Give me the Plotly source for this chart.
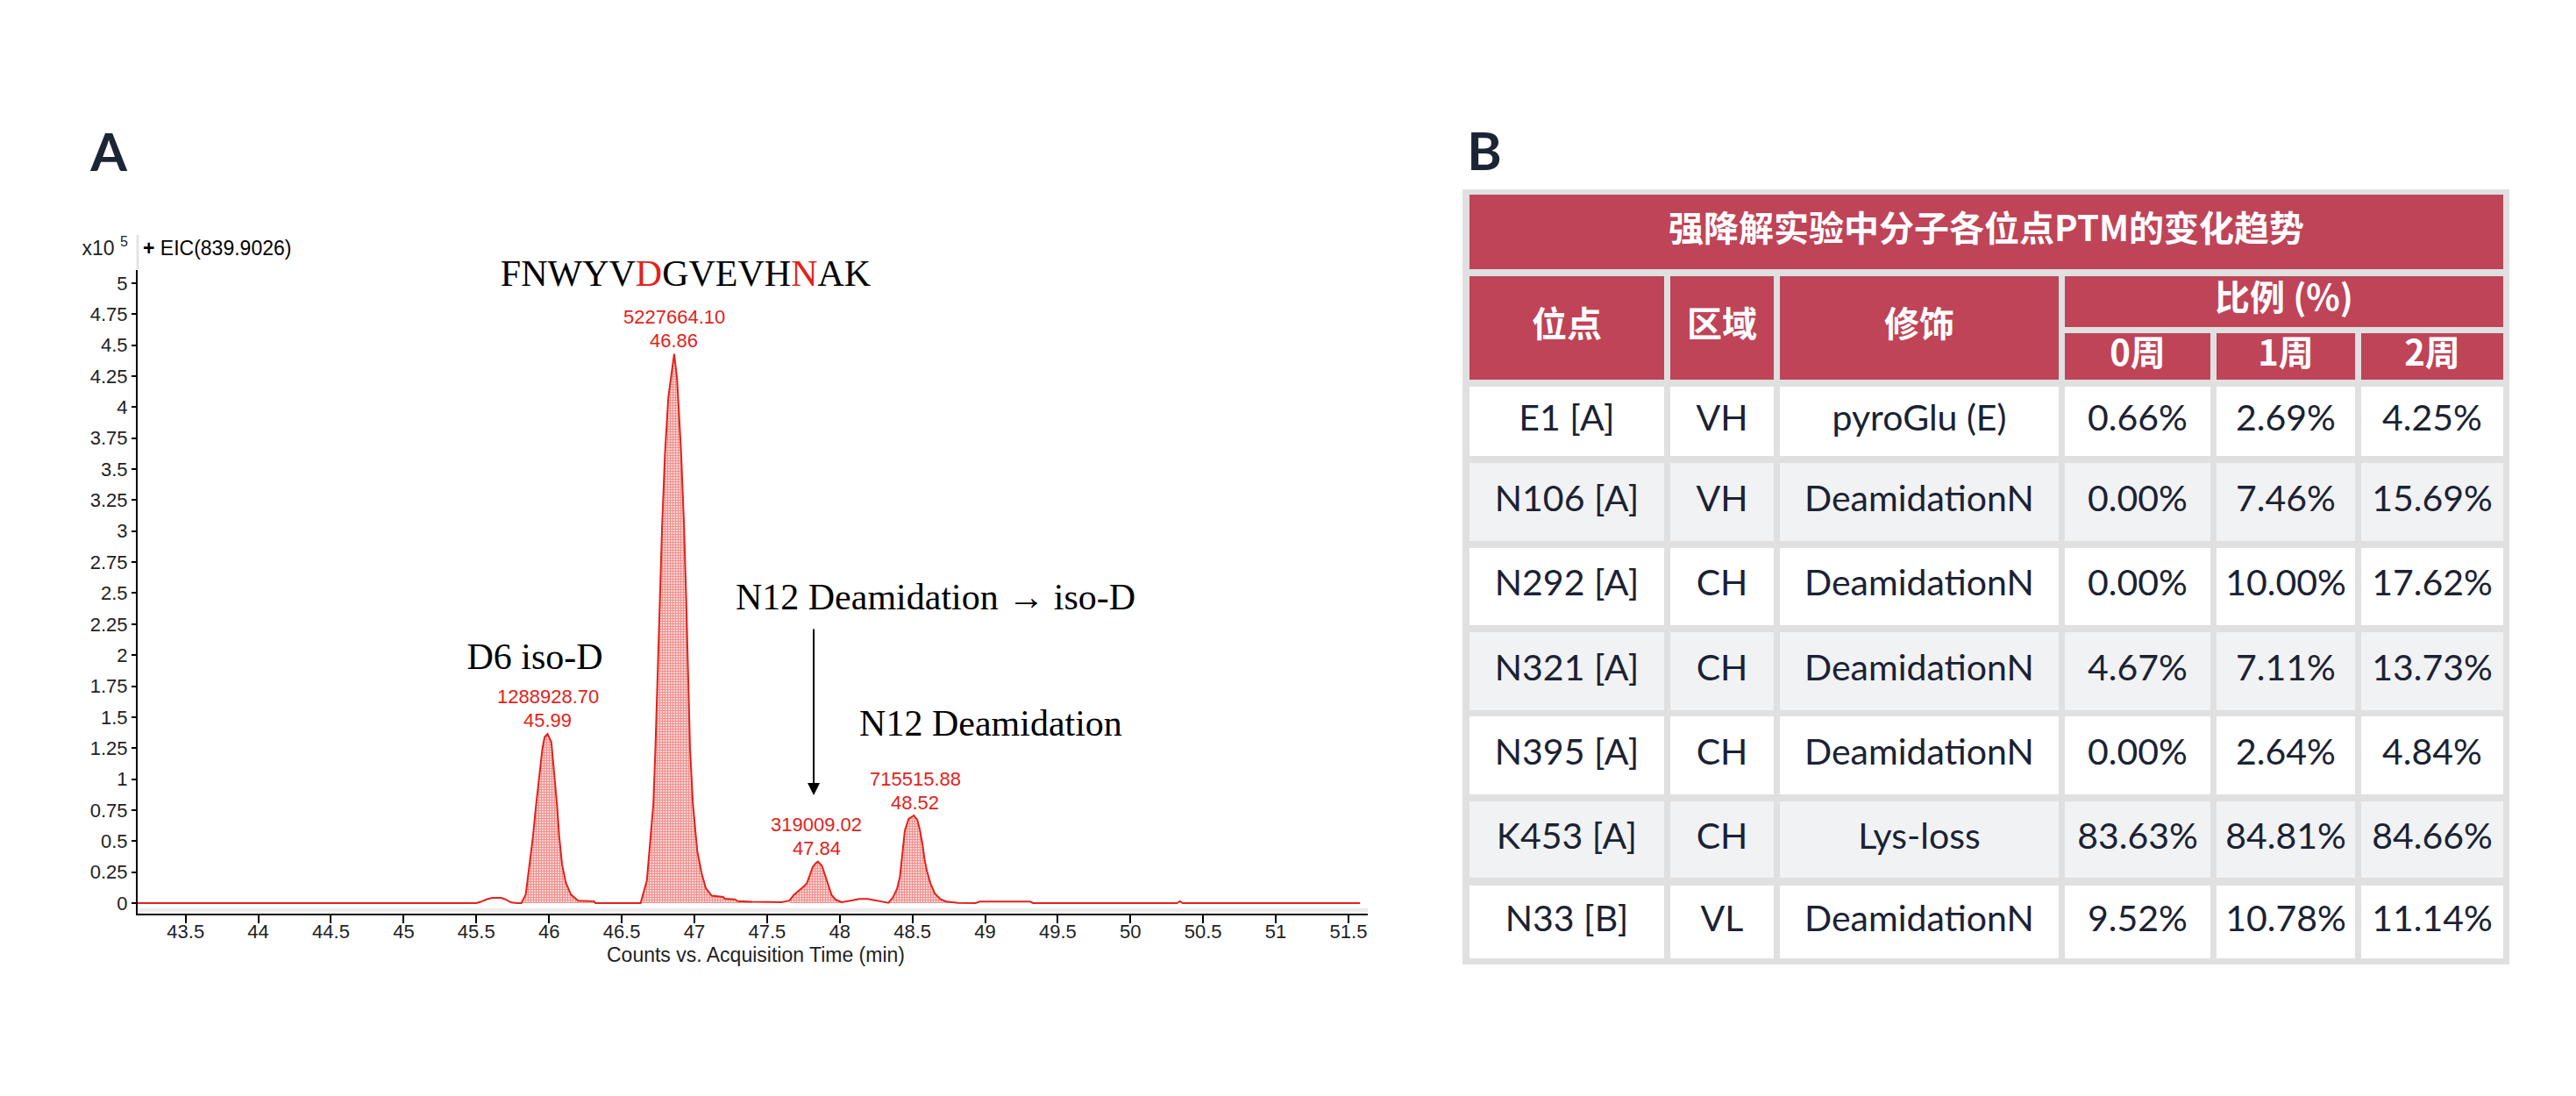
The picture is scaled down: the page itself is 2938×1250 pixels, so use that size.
import plotly.graph_objects as go

W, H = 2938, 1250
OFF = 8  # the page body margin shifts the figure by this many pixels
RED = "#e3221b"
NAVY = "#1b2233"
CRIMSON = "#bf4458"

# ---- panel A data: EIC(839.9026), intensity in x10^5 counts ----
time_min = [43.17, 45.50, 45.53, 45.57, 45.61, 45.67, 45.70, 45.74, 45.78,
            45.81, 45.84, 45.86, 45.89, 45.91, 45.93, 45.955, 45.97, 45.99,
            46.016, 46.04, 46.056, 46.07, 46.09, 46.116, 46.15, 46.20, 46.31,
            46.32, 46.63, 46.673, 46.692, 46.718, 46.732, 46.746, 46.762,
            46.778, 46.798, 46.821, 46.861, 46.881, 46.909, 46.929, 46.944,
            46.956, 46.970, 46.990, 47.020, 47.050, 47.079, 47.119, 47.198,
            47.21, 47.278, 47.30, 47.397, 47.60, 47.654, 47.684, 47.714,
            47.744, 47.774, 47.794, 47.814, 47.834, 47.85, 47.878, 47.898,
            47.924, 47.944, 47.974, 48.014, 48.074, 48.134, 48.194, 48.254,
            48.314, 48.334, 48.364, 48.394, 48.414, 48.428, 48.448, 48.474,
            48.51, 48.534, 48.55, 48.57, 48.584, 48.60, 48.624, 48.654,
            48.694, 48.734, 48.814, 48.934, 48.964, 49.31, 49.33, 50.32,
            50.34, 50.36, 51.58]
counts_e5 = [0, 0, 0.01, 0.03, 0.042, 0.042, 0.03, 0.005, 0,
             0, 0.07, 0.26, 0.54, 0.78, 1.01, 1.25, 1.34, 1.365,
             1.30, 1.01, 0.78, 0.54, 0.31, 0.165, 0.07, 0.02, 0.015,
             0, 0, 0.18, 0.42, 0.80, 1.25, 1.85, 2.44,
             3.04, 3.63, 4.08, 4.43, 4.23, 3.63, 3.04, 2.44,
             1.85, 1.25, 0.80, 0.42, 0.24, 0.12, 0.06, 0.05,
             0.035, 0.03, 0.015, 0.01, 0.007, 0.02, 0.066, 0.094,
             0.125, 0.16, 0.23, 0.29, 0.32, 0.335, 0.30, 0.23,
             0.137, 0.066, 0.026, 0.007, 0.02, 0.033, 0.033, 0.02,
             0.005, 0.002, 0.042, 0.113, 0.21, 0.35, 0.585, 0.68,
             0.707, 0.67, 0.60, 0.47, 0.35, 0.26, 0.16, 0.078,
             0.031, 0.012, 0.002, 0, 0.012, 0.012, 0, 0,
             0.015, 0, 0]

peak_rt = ["45.99", "46.86", "47.84", "48.52"]
peak_top = [1.365, 4.43, 0.335, 0.707]
peak_area = ["1288928.70", "5227664.10", "319009.02", "715515.88"]
peak_window = [(45.80, 46.32), (46.62, 47.42), (47.63, 48.02), (48.33, 48.82)]

x_ticks = [43.5, 44, 44.5, 45, 45.5, 46, 46.5, 47, 47.5, 48, 48.5, 49,
           49.5, 50, 50.5, 51, 51.5]
y_ticks = [0, 0.25, 0.5, 0.75, 1, 1.25, 1.5, 1.75, 2, 2.25, 2.5, 2.75,
           3, 3.25, 3.5, 3.75, 4, 4.25, 4.5, 4.75, 5]

# ---- panel B data ----
table_title = "强降解实验中分子各位点PTM的变化趋势"
header_top = ["位点", "区域", "修饰", "比例 (%)"]
header_weeks = ["0周", "1周", "2周"]
sites = ["E1 [A]", "N106 [A]", "N292 [A]", "N321 [A]", "N395 [A]", "K453 [A]", "N33 [B]"]
regions = ["VH", "VH", "CH", "CH", "CH", "CH", "VL"]
mods = ["pyroGlu (E)", "DeamidationN", "DeamidationN", "DeamidationN",
        "DeamidationN", "Lys-loss", "DeamidationN"]
week0 = [0.66, 0.00, 0.00, 4.67, 0.00, 83.63, 9.52]
week1 = [2.69, 7.46, 10.00, 7.11, 2.64, 84.81, 10.78]
week2 = [4.25, 15.69, 17.62, 13.73, 4.84, 84.66, 11.14]


def px(x):
    return (x - OFF) / W


def py(y):
    return 1 - (y - OFF) / H


fig = go.Figure()

# integrated peak areas (hatched)
for lo, hi in peak_window:
    xs = [t for t in time_min if lo <= t <= hi]
    ys = [v for t, v in zip(time_min, counts_e5) if lo <= t <= hi]
    fig.add_trace(go.Scatter(
        x=xs, y=ys, mode="lines", fill="tozeroy", line=dict(width=0, color=RED),
        fillpattern=dict(shape="+", fgcolor=RED, bgcolor="white", size=3, solidity=0.7),
        hoverinfo="skip", showlegend=False))

fig.add_trace(go.Scatter(x=time_min, y=counts_e5, mode="lines",
                         line=dict(color=RED, width=2), hoverinfo="skip",
                         showlegend=False))

# peak labels
for rt, top, area in zip(peak_rt, peak_top, peak_area):
    fig.add_annotation(x=float(rt), y=top, text=area, showarrow=False, yshift=42,
                       font=dict(family="Liberation Sans", size=22, color=RED))
    fig.add_annotation(x=float(rt), y=top, text=rt, showarrow=False, yshift=15,
                       font=dict(family="Liberation Sans", size=22, color=RED))

fig.add_annotation(x=47.821, y=0.87, ax=0, ay=-191, text="", showarrow=True,
                   arrowhead=2, arrowsize=1.4, arrowwidth=2, arrowcolor="black")

# free texts on an overlay axis measured in reference pixels
serif = dict(family="Liberation Serif", size=42, color="black")
sans = dict(family="Liberation Sans", size=23, color="#222")
free_text = [
    ("<b>A</b>", 124, 180, "middle center", dict(family="Lato", size=60, color="#1c2536")),
    ("<b>B</b>", 1693, 179, "middle center", dict(family="Lato", size=60, color="#1c2536")),
    ("FNWYV<span style='color:#e3221b'>D</span>GVEVH<span style='color:#e3221b'>N</span>AK",
     782, 315, "middle center", serif),
    ("D6 iso-D", 610, 752, "middle center", serif),
    ("N12 Deamidation → iso-D", 1067, 684, "middle center", serif),
    ("N12 Deamidation", 1130, 828, "middle center", serif),
    ("x10 <sup>5</sup>", 146, 285, "middle left", sans),
    ("<b>+</b> EIC(839.9026)", 163, 285, "middle right",
     dict(family="Liberation Sans", size=23, color="black")),
    ("Counts vs. Acquisition Time (min)", 862, 1091, "middle center", sans),
]
for txt, x, y, pos, font in free_text:
    fig.add_trace(go.Scatter(x=[x], y=[y], text=[txt], mode="text", textposition=pos,
                             textfont=font, xaxis="x3", yaxis="y3",
                             hoverinfo="skip", showlegend=False))

fig.add_shape(type="line", xref="paper", yref="paper", x0=px(157), x1=px(157),
              y0=py(268), y1=py(307), line=dict(color="#e4e4e4", width=3))
fig.add_shape(type="rect", xref="x domain", yref="y", x0=0, x1=1, y0=-0.04, y1=-0.07,
              fillcolor="#ececec", line_width=0, layer="below")

# ---- panel B: table drawn on its own pixel-unit axes ----
TBL_X0, TBL_X1, TBL_Y0, TBL_Y1 = 1668, 2862, 216, 1100
col_w = [222, 118, 318, 166, 158, 162]
GAP = 7
col_edges = []
cx = 1676
for w in col_w:
    col_edges.append((cx, cx + w))
    cx += w + GAP
title_row = (222, 307)
head_row = (315, 433)
head_sub = [(315, 373), (380, 433)]
body_rows = [(441, 520), (528, 617), (625, 713), (721, 810), (817, 906), (914, 1001), (1010, 1093)]


def cell(x0, x1, y0, y1, color):
    fig.add_shape(type="rect", xref="x2", yref="y2", x0=x0, x1=x1, y0=y0, y1=y1,
                  fillcolor=color, line_width=0, layer="below")


cell(TBL_X0, TBL_X1, TBL_Y0, TBL_Y1, "#e0e0e0")
cell(col_edges[0][0], col_edges[-1][1], *title_row, CRIMSON)
for i in range(3):
    cell(*col_edges[i], *head_row, CRIMSON)
cell(col_edges[3][0], col_edges[5][1], *head_sub[0], CRIMSON)
for i in range(3, 6):
    cell(*col_edges[i], *head_sub[1], CRIMSON)
for r, (y0, y1) in enumerate(body_rows):
    for x0, x1 in col_edges:
        cell(x0, x1, y0, y1, "white" if r % 2 == 0 else "#f1f2f4")

head_font = dict(family="Noto Sans CJK SC", size=40, color="white")
head_x = [(col_edges[0][0] + col_edges[-1][1]) / 2]
head_y = [sum(title_row) / 2]
head_t = ["<b>" + table_title + "</b>"]
for i in range(3):
    head_x.append(sum(col_edges[i]) / 2)
    head_y.append(sum(head_row) / 2)
    head_t.append("<b>" + header_top[i] + "</b>")
head_x.append((col_edges[3][0] + col_edges[5][1]) / 2)
head_y.append(sum(head_sub[0]) / 2)
head_t.append("<b>" + header_top[3] + "</b>")
for i, wk in enumerate(header_weeks):
    head_x.append(sum(col_edges[3 + i]) / 2)
    head_y.append(sum(head_sub[1]) / 2)
    head_t.append("<b>" + wk + "</b>")
fig.add_trace(go.Scatter(x=head_x, y=head_y, text=head_t, mode="text",
                         textposition="middle center", xaxis="x2", yaxis="y2",
                         textfont=head_font, hoverinfo="skip", showlegend=False))

columns = [sites, regions, mods,
           ["%.2f%%" % v for v in week0],
           ["%.2f%%" % v for v in week1],
           ["%.2f%%" % v for v in week2]]
row_mid = [(a + b) / 2 for a, b in body_rows]
for (x0, x1), texts in zip(col_edges, columns):
    fig.add_trace(go.Scatter(
        x=[(x0 + x1) / 2] * len(texts), y=row_mid, text=texts, mode="text",
        textposition="middle center", xaxis="x2", yaxis="y2",
        textfont=dict(family="Lato", size=41, color=NAVY),
        hoverinfo="skip", showlegend=False))

axis_font = dict(family="Liberation Sans", size=22, color="#222")
fig.update_layout(
    width=W, height=H, autosize=False,
    margin=dict(l=0, r=0, t=0, b=0),
    paper_bgcolor="white", plot_bgcolor="rgba(0,0,0,0)",
    showlegend=False,
    xaxis=dict(domain=[px(157), px(1560)], range=[43.17, 51.633],
               tickvals=x_ticks, ticktext=[("%g" % t) for t in x_ticks],
               showgrid=False, zeroline=False, showline=True, linecolor="black",
               linewidth=2, ticks="outside", ticklen=9, tickwidth=1.5,
               tickcolor="black", tickfont=axis_font, anchor="y",
               ticklabelstandoff=-9),
    yaxis=dict(domain=[py(1042), py(308)], range=[-0.085, 5.106],
               tickvals=y_ticks, ticktext=[("%g" % t) for t in y_ticks],
               showgrid=False, zeroline=False, showline=True, linecolor="black",
               linewidth=2, ticks="outside", ticklen=5, tickwidth=1.5,
               tickcolor="black", tickfont=axis_font, anchor="x"),
    xaxis2=dict(domain=[px(TBL_X0), px(TBL_X1)], range=[TBL_X0, TBL_X1],
                visible=False, anchor="y2", fixedrange=True),
    yaxis2=dict(domain=[py(TBL_Y1), py(TBL_Y0)], range=[TBL_Y1, TBL_Y0],
                visible=False, anchor="x2", fixedrange=True),
    xaxis3=dict(domain=[0, 1], range=[OFF, W + OFF], visible=False,
                anchor="y3", fixedrange=True),
    yaxis3=dict(domain=[0, 1], range=[H + OFF, OFF], visible=False,
                anchor="x3", fixedrange=True),
)

fig.write_html("out.html")
